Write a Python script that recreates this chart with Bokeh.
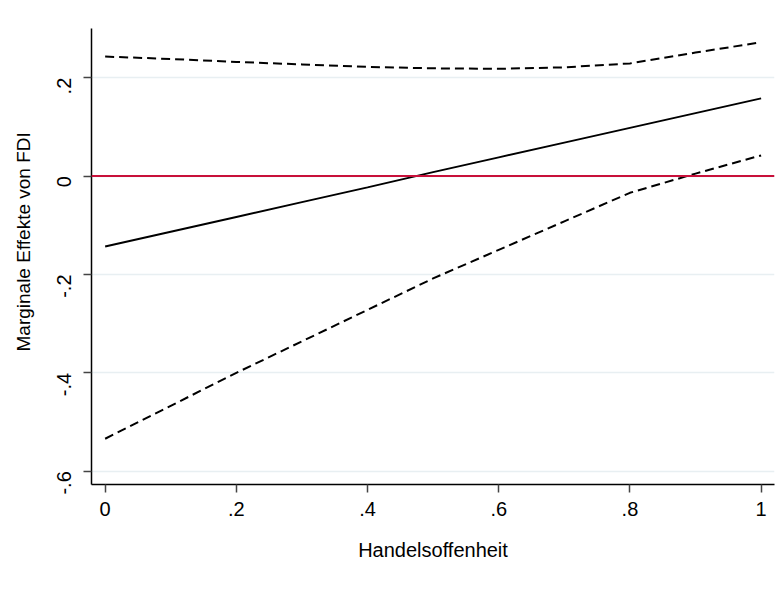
import math
from bokeh.plotting import figure
from bokeh.models import FixedTicker, Range1d, Span, Title
from bokeh.embed import file_html
from bokeh.resources import INLINE

# Data
x_vals = [0.0, 0.1, 0.2, 0.3, 0.4, 0.5, 0.6, 0.7, 0.8, 0.9, 1.0]
effect = [-0.143, -0.113, -0.083, -0.053, -0.023, 0.008, 0.038, 0.068, 0.098, 0.128, 0.158]
upper_ci = [0.243, 0.238, 0.232, 0.227, 0.222, 0.219, 0.218, 0.221, 0.229, 0.251, 0.272]
lower_ci = [-0.534, -0.467, -0.400, -0.336, -0.272, -0.208, -0.150, -0.092, -0.034, 0.005, 0.042]

x_ticks = [0, 0.2, 0.4, 0.6, 0.8, 1.0]
x_tick_labels = ["0", ".2", ".4", ".6", ".8", "1"]
y_ticks = [-0.6, -0.4, -0.2, 0, 0.2]
y_tick_labels = ["-.6", "-.4", "-.2", "0", ".2"]

x_title = "Handelsoffenheit"
y_title = "Marginale Effekte von FDI"

FONT = "Liberation Sans"

p = figure(width=784, height=603, output_backend="svg", toolbar_location=None,
           x_range=Range1d(-0.0208, 1.0204), y_range=Range1d(-0.627, 0.300),
           min_border_left=91, min_border_right=10, min_border_top=28, min_border_bottom=119)
p.outline_line_color = None
p.background_fill_color = "white"
p.border_fill_color = "white"

# grid
p.xgrid.visible = False
p.ygrid.ticker = FixedTicker(ticks=y_ticks)
p.ygrid.grid_line_color = "#e8eff2"
p.ygrid.grid_line_width = 1.5

# axes
for ax in (p.xaxis[0], p.yaxis[0]):
    ax.axis_line_color = "black"
    ax.axis_line_width = 1.5
    ax.major_tick_line_color = "#444444"
    ax.major_tick_line_width = 1.5
    ax.major_tick_in = 0
    ax.major_tick_out = 8
    ax.minor_tick_line_color = None
    ax.major_label_text_font = FONT
    ax.major_label_text_font_size = "20px"
    ax.major_label_text_color = "black"
    ax.axis_label_text_font = FONT
    ax.axis_label_text_font_style = "normal"
    ax.axis_label_text_color = "black"

p.xaxis.ticker = FixedTicker(ticks=x_ticks)
p.xaxis.major_label_overrides = {t: l for t, l in zip(x_ticks, x_tick_labels)}
p.xaxis.major_label_standoff = 9
p.xaxis.axis_label = x_title
p.xaxis.axis_label_text_font_size = "20px"
p.xaxis.axis_label_standoff = 20

p.yaxis.ticker = FixedTicker(ticks=y_ticks)
p.yaxis.major_label_overrides = {t: l for t, l in zip(y_ticks, y_tick_labels)}
p.yaxis.major_label_orientation = math.pi / 2
p.yaxis.major_label_standoff = 19

# y-axis title as a side title, centred like the reference
p.add_layout(Title(text=y_title, align="left", vertical_align="top", offset=133, standoff=24,
                   text_font=FONT, text_font_size="19px", text_font_style="normal",
                   text_color="black"), "left")

# zero reference line
p.add_layout(Span(location=0, dimension="width", line_color="#c8103a", line_width=2))

# lines
p.line(x_vals, upper_ci, line_color="black", line_width=2, line_dash="9 5")
p.line(x_vals, lower_ci, line_color="black", line_width=2, line_dash="9 5")
p.line(x_vals, effect, line_color="black", line_width=2)

open("out.html", "w").write(file_html(p, INLINE))
